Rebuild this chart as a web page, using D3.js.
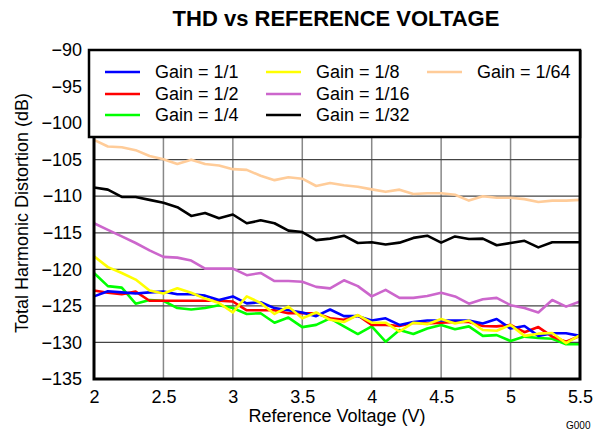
<!DOCTYPE html>
<html>
<head>
<meta charset="utf-8">
<script src="https://cdn.jsdelivr.net/npm/d3@7"></script>
<style>
  body { margin: 0; background: #fff; }
  text { font-family: "Liberation Sans", Arial, sans-serif; }
</style>
</head>
<body>
<script>
// THD vs reference voltage, one series per gain setting

var width = 602
var height = 431

// reference voltage, 2.0 V to 5.5 V in 0.1 V steps
var volts = d3.range(20, 56).map(function(v) { return v / 10; });

var gain1 = [-123.7, -123.0, -123.15, -123.3, -123.15, -123.05, -123.4, -123.4, -123.6, -124.2, -123.7, -124.65, -124.5, -125.3, -125.6, -125.9, -126.4, -125.5, -126.4, -126.4, -127.0, -126.7, -127.6, -127.2, -127.0, -127.0, -127.0, -127.0, -127.4, -126.8, -128.1, -127.75, -129.1, -128.75, -128.75, -129.1];
var gain2 = [-122.9, -123.2, -123.4, -123.05, -124.3, -124.3, -124.3, -124.3, -124.3, -124.3, -124.4, -125.6, -125.6, -125.6, -126.0, -126.0, -126.0, -126.7, -126.9, -126.3, -127.6, -127.6, -127.75, -127.3, -127.4, -127.3, -127.2, -127.2, -127.75, -127.8, -127.6, -128.6, -127.9, -129.2, -129.9, -129.1];
var gain4 = [-120.5, -122.3, -122.5, -124.7, -124.2, -124.3, -125.3, -125.5, -125.3, -124.9, -125.3, -126.1, -126.0, -127.3, -126.6, -127.9, -127.6, -126.7, -127.8, -128.85, -127.8, -129.9, -128.3, -128.85, -128.1, -127.6, -128.2, -127.8, -129.1, -129.0, -129.8, -129.2, -129.4, -129.5, -130.25, -130.25];
var gain8 = [-118.2, -119.7, -120.5, -121.4, -122.9, -123.3, -122.6, -123.2, -124.0, -124.6, -125.9, -123.7, -124.6, -126.1, -125.1, -126.7, -125.9, -126.9, -127.2, -126.25, -127.3, -127.3, -128.5, -127.3, -127.5, -126.8, -127.4, -127.0, -128.3, -128.4, -127.6, -129.1, -128.8, -128.7, -130.1, -129.0];
var gain16 = [-113.7, -114.6, -115.5, -116.4, -117.4, -118.3, -118.4, -118.8, -119.9, -119.9, -119.9, -120.8, -120.5, -121.6, -121.6, -121.7, -122.4, -122.6, -121.5, -122.3, -123.7, -122.8, -123.9, -123.9, -123.65, -123.2, -123.7, -124.7, -124.1, -123.9, -124.9, -125.3, -125.9, -124.2, -125.1, -124.4];
var gain32 = [-108.8, -109.1, -110.1, -110.1, -110.5, -110.9, -111.5, -112.7, -112.3, -113.0, -112.5, -113.7, -113.3, -113.7, -114.7, -114.9, -116.0, -115.8, -115.4, -116.4, -116.3, -116.6, -116.35, -115.7, -115.4, -116.35, -115.5, -115.85, -115.8, -116.7, -116.4, -116.1, -117.0, -116.3, -116.3, -116.3];
var gain64 = [-102.3, -103.2, -103.3, -103.7, -104.5, -104.95, -105.6, -105.0, -105.6, -105.8, -106.3, -106.4, -107.2, -107.8, -107.4, -107.6, -108.6, -108.2, -108.5, -108.7, -109.06, -109.4, -109.1, -109.7, -109.6, -109.6, -109.8, -110.6, -110.0, -110.2, -110.2, -110.4, -110.8, -110.6, -110.6, -110.5];

var gainLabels = ["Gain = 1/1", "Gain = 1/2", "Gain = 1/4", "Gain = 1/8", "Gain = 1/16", "Gain = 1/32", "Gain = 1/64"];
var gainColors = ["#0000ff", "#ff0000", "#00ff00", "#ffff00", "#cc66cc", "#000000", "#ffcc99"];
var gainValues = [gain1, gain2, gain4, gain8, gain16, gain32, gain64];

var xTicks = [2, 2.5, 3, 3.5, 4, 4.5, 5, 5.5];
var yTicks = [-90, -95, -100, -105, -110, -115, -120, -125, -130, -135];

// plot area
var plotL = 94, plotR = 580, plotT = 50, plotB = 379;

var x = d3.scaleLinear().domain([2, 5.5]).range([plotL, plotR]);
var y = d3.scaleLinear().domain([-135, -90]).range([plotB, plotT]);

var svg = d3.select("body").append("svg")
    .attr("width", width)
    .attr("height", height);

// title
svg.append("text")
    .attr("x", 336).attr("y", 26)
    .attr("text-anchor", "middle")
    .style("font-size", "22px").style("font-weight", "bold")
    .text("THD vs REFERENCE VOLTAGE");

// grid
svg.append("g").selectAll("line")
    .data(xTicks.slice(1, -1))
  .enter().append("line")
    .attr("x1", function(d) { return x(d); }).attr("x2", function(d) { return x(d); })
    .attr("y1", plotT).attr("y2", plotB)
    .attr("stroke", "#888").attr("stroke-width", 1.5);

svg.append("g").selectAll("line")
    .data(yTicks.slice(1, -1))
  .enter().append("line")
    .attr("x1", plotL).attr("x2", plotR)
    .attr("y1", function(d) { return y(d); }).attr("y2", function(d) { return y(d); })
    .attr("stroke", "#444").attr("stroke-width", 1.2);

// the series
var line = d3.line()
    .x(function(d, i) { return x(volts[i]); })
    .y(function(d) { return y(d); });

var order = [6, 5, 4, 2, 1, 0, 3];
svg.append("g").selectAll("path")
    .data(order)
  .enter().append("path")
    .attr("d", function(k) { return line(gainValues[k]); })
    .attr("fill", "none")
    .attr("stroke", function(k) { return gainColors[k]; })
    .attr("stroke-width", 2.6)
    .attr("stroke-linejoin", "round");

// axes
var xAxis = d3.axisBottom(x).tickValues(xTicks).tickSize(0).tickPadding(11)
    .tickFormat(function(d) { return String(d); });
svg.append("g")
    .attr("transform", "translate(0," + plotB + ")")
    .call(xAxis)
    .call(function(g) { g.select(".domain").remove(); })
    .selectAll("text")
    .style("font-size", "18px").attr("fill", "#000")
    .attr("font-family", "Liberation Sans, Arial, sans-serif");

var yAxis = d3.axisLeft(y).tickValues(yTicks).tickSize(0).tickPadding(12)
    .tickFormat(function(d) { return "\u2212" + Math.abs(d); });
svg.append("g")
    .attr("transform", "translate(" + plotL + ",0)")
    .call(yAxis)
    .call(function(g) { g.select(".domain").remove(); })
    .selectAll("text")
    .style("font-size", "18px").attr("fill", "#000")
    .attr("font-family", "Liberation Sans, Arial, sans-serif");

// plot frame
svg.append("path")
    .attr("d", "M" + plotL + "," + plotT + "V" + plotB + "H" + plotR + "V" + plotT)
    .attr("fill", "none").attr("stroke", "#000").attr("stroke-width", 3);

// legend box
svg.append("rect")
    .attr("x", 89).attr("y", plotT).attr("width", plotR - 89).attr("height", 87)
    .attr("fill", "#fff").attr("stroke", "#000").attr("stroke-width", 2.5);

var legendCols = [105, 266, 427];
var legendRows = [72, 94, 115];
var legend = svg.append("g").selectAll("g")
    .data(gainLabels)
  .enter().append("g")
    .attr("transform", function(d, i) {
      return "translate(" + legendCols[Math.floor(i / 3)] + "," + legendRows[i % 3] + ")";
    });
legend.append("line")
    .attr("x1", 0).attr("x2", 35)
    .attr("stroke", function(d, i) { return gainColors[i]; })
    .attr("stroke-width", 2.6);
legend.append("text")
    .attr("x", 50).attr("dy", "0.35em")
    .style("font-size", "18px")
    .text(function(d) { return d; });

// axis titles
svg.append("text")
    .attr("x", 337).attr("y", 422)
    .attr("text-anchor", "middle")
    .style("font-size", "18px")
    .text("Reference Voltage (V)");

svg.append("text")
    .attr("transform", "translate(28,213) rotate(-90)")
    .attr("text-anchor", "middle")
    .style("font-size", "18px")
    .text("Total Harmonic Distortion (dB)");

svg.append("text")
    .attr("x", 566).attr("y", 429)
    .style("font-size", "10px")
    .text("G000");
</script>
</body>
</html>
